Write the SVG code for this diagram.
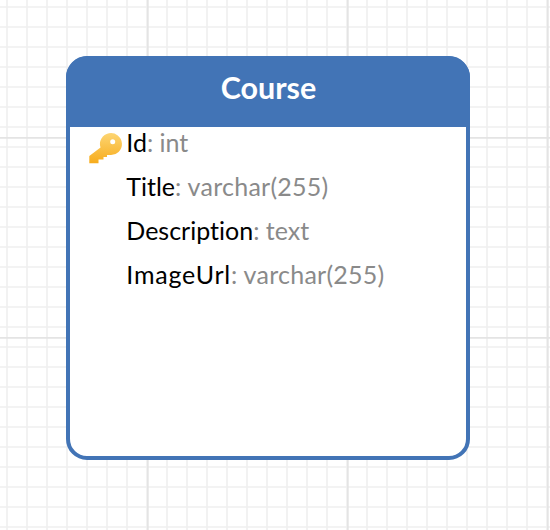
<svg xmlns="http://www.w3.org/2000/svg" width="550" height="530" viewBox="0 0 550 530">
<defs>
<linearGradient id="keyGrad" x1="0" y1="0" x2="0" y2="1"><stop offset="0" stop-color="#fdd573"/><stop offset="1" stop-color="#f7ac1c"/></linearGradient>
<pattern id="minor" width="20" height="20" patternUnits="userSpaceOnUse" x="-3" y="-3"><path d="M10 0V20M0 10H20" stroke="#f0f0f0" stroke-width="1.700" fill="none"/></pattern>
<pattern id="major" width="200" height="200" patternUnits="userSpaceOnUse" x="-53" y="-63"><path d="M0 0V200M0 0H200" stroke="#e4e4e4" stroke-width="3.400" fill="none"/></pattern>
</defs>
<style>
text{font-family:Lato,"Noto Sans",sans-serif;font-size:25px;font-variant-ligatures:none}
.n{fill:#000}
.t{fill:#8a8a8a}
.v{letter-spacing:.25px}
</style>
<rect width="550" height="530" fill="#fff"/>
<rect width="550" height="530" fill="url(#minor)"/>
<rect width="550" height="530" fill="url(#major)"/>
<g id="connectors"/>
<g id="course">
<rect x="68" y="58" width="400" height="400" rx="19" fill="#fff" stroke="#4274b6" stroke-width="4"/>
<path d="M66 127V78A22 22 0 0 1 88 56H448A22 22 0 0 1 470 78V127Z" fill="#4274b6"/>
<text x="268.500" y="99" text-anchor="middle" font-weight="700" fill="#fff" style="font-size:30.500px">Course</text>
<path d="M89.300 156L100.500 147.500A11 11 0 1 1 110 155H107V157H103.500V159.500H98.500V163.300H89.300ZM112.700 139.200a2.500 2.500 0 1 0 0 5a2.500 2.500 0 0 0 0-5Z" fill="url(#keyGrad)" fill-rule="evenodd"/>
<text x="126.300" y="152"><tspan class="n">Id</tspan><tspan class="t">: int</tspan></text>
<text x="126.300" y="196"><tspan class="n">Title</tspan><tspan class="t v">: varchar(255)</tspan></text>
<text x="126.300" y="240"><tspan class="n">Description</tspan><tspan class="t">: text</tspan></text>
<text x="126.300" y="284"><tspan class="n" style="letter-spacing:.8px">ImageUrl</tspan><tspan class="t v">: varchar(255)</tspan></text>
</g>
</svg>
